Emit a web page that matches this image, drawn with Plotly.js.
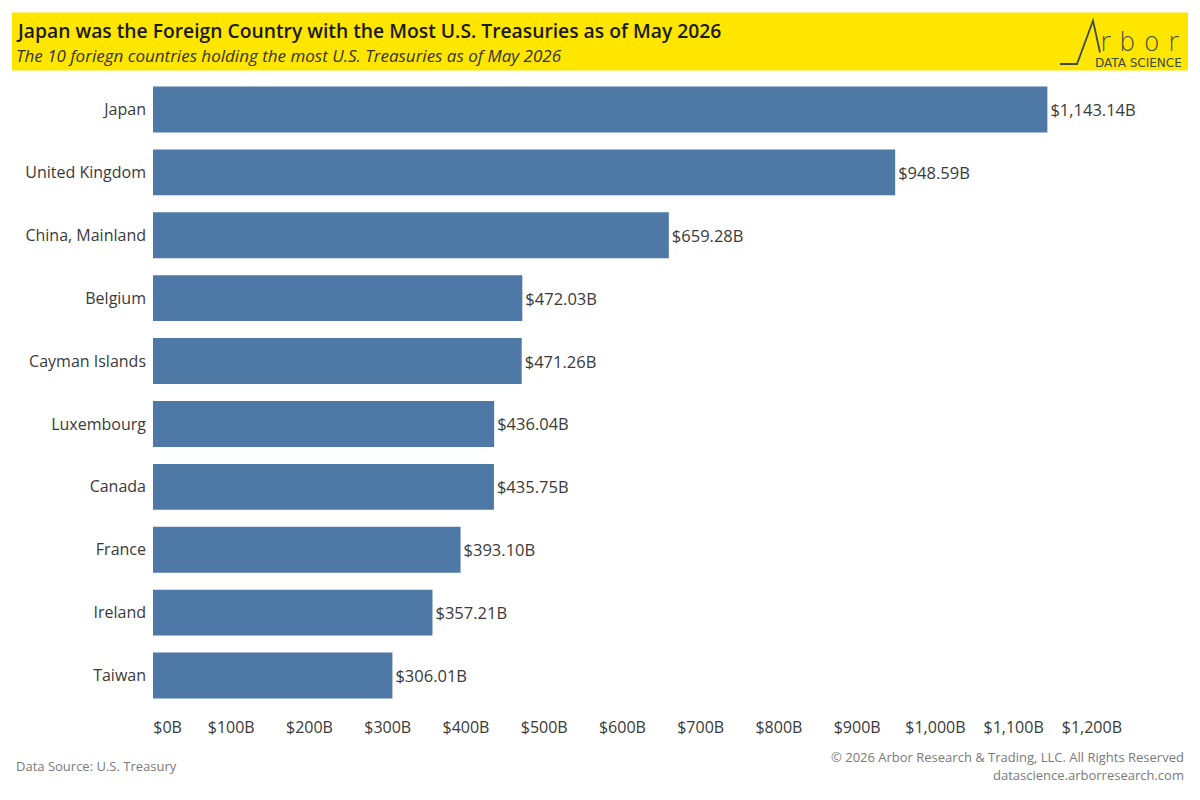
<!DOCTYPE html>
<html>
<head>
<meta charset="utf-8">
<script src="https://cdn.plot.ly/plotly-3.0.1.min.js"></script>
<style>
html,body{margin:0;padding:0;background:#fff;}
#chart{width:1200px;height:800px;}
</style>
</head>
<body>
<div id="chart"></div>
<script>
const countries = ["Japan","United Kingdom","China, Mainland","Belgium","Cayman Islands","Luxembourg","Canada","France","Ireland","Taiwan"];
const holdings = [1143.14, 948.59, 659.28, 472.03, 471.26, 436.04, 435.75, 393.10, 357.21, 306.01];
const valueLabels = ["$1,143.14B","$948.59B","$659.28B","$472.03B","$471.26B","$436.04B","$435.75B","$393.10B","$357.21B","$306.01B"];
const tickValues = [0,100,200,300,400,500,600,700,800,900,1000,1100,1200];
const tickLabels = ["$0B","$100B","$200B","$300B","$400B","$500B","$600B","$700B","$800B","$900B","$1,000B","$1,100B","$1,200B"];

const titleText = "Japan was the Foreign Country with the Most U.S. Treasuries as of May 2026";
const subtitleText = "The 10 foriegn countries holding the most U.S. Treasuries as of May 2026";
const sourceText = "Data Source: U.S. Treasury";
const copyrightText = "© 2026 Arbor Research & Trading, LLC. All Rights Reserved";
const siteText = "datascience.arborresearch.com";
const logoWord = "r\u00a0b\u00a0o\u00a0r";
const logoTag = "DATA SCIENCE";

// layout geometry (pixels)
const W = 1200, H = 800;
const mL = 153, mR = 69, mT = 77.5, mB = 92.5;
const pw = W - mL - mR, ph = H - mT - mB;
const px = x => (x - mL) / pw;
const py = y => (H - mB - y) / ph;

// first tick label sits inside the axis start, as in the reference
const shownTicks = tickLabels.map((t, i) => i === 0 ? "\u00a0".repeat(7) + t : t);

const FONT = "Open Sans, sans-serif";
const txt = "#3a3a3a";

const trace = {
  type: "bar",
  orientation: "h",
  x: holdings,
  y: countries,
  text: valueLabels,
  textposition: "outside",
  cliponaxis: false,
  textfont: {family: FONT, size: 16.5, color: txt},
  marker: {color: "#4e79a7"},
  hoverinfo: "none"
};

const logoColor = "#3d4b45";
const layout = {
  width: W, height: H,
  margin: {l: mL, r: mR, t: mT, b: mB, pad: 0},
  paper_bgcolor: "#fff",
  plot_bgcolor: "#fff",
  bargap: 0.27,
  showlegend: false,
  font: {family: FONT, color: txt},
  xaxis: {
    range: [0, 1250],
    tickvals: tickValues,
    ticktext: shownTicks,
    showgrid: false, zeroline: false, showline: false, ticks: "",
    tickfont: {family: FONT, size: 16, color: txt},
    ticklabelstandoff: 9,
    fixedrange: true
  },
  yaxis: {
    autorange: "reversed",
    showgrid: false, zeroline: false, showline: false, ticks: "",
    tickfont: {family: FONT, size: 16, color: txt},
    ticklabelstandoff: 6,
    fixedrange: true
  },
  shapes: [
    {type: "rect", xref: "paper", yref: "paper", x0: px(12), x1: px(1188), y0: py(70), y1: py(12),
     fillcolor: "#FFE600", line: {width: 0}, layer: "below"},
    {type: "path", xref: "paper", yref: "paper",
     path: `M ${px(1060)} ${py(63.5)} L ${px(1077)} ${py(63.5)} L ${px(1093)} ${py(20)} L ${px(1100)} ${py(52)}`,
     line: {color: logoColor, width: 1.8}}
  ],
  annotations: [
    {text: titleText, xref: "paper", yref: "paper", x: px(14), y: py(29.5), xanchor: "left", yanchor: "middle",
     showarrow: false, font: {family: FONT, size: 19.3, color: "#1a1a1a", weight: 600}},
    {text: "<i>" + subtitleText + "</i>", xref: "paper", yref: "paper", x: px(14), y: py(55), xanchor: "left", yanchor: "middle",
     showarrow: false, font: {family: FONT, size: 17, color: "#333"}},
    {text: logoWord, xref: "paper", yref: "paper", x: px(1098), y: py(41), xanchor: "left", yanchor: "middle",
     showarrow: false, font: {family: "DejaVu Sans, sans-serif", size: 26, color: logoColor, weight: 200}},
    {text: logoTag, xref: "paper", yref: "paper", x: px(1184), y: py(62), xanchor: "right", yanchor: "middle",
     showarrow: false, font: {family: "DejaVu Sans, sans-serif", size: 12, color: logoColor}},
    {text: sourceText, xref: "paper", yref: "paper", x: px(14), y: py(767), xanchor: "left", yanchor: "middle",
     showarrow: false, font: {family: FONT, size: 13, color: "#7a7a7a"}},
    {text: copyrightText, xref: "paper", yref: "paper", x: px(1186), y: py(758), xanchor: "right", yanchor: "middle",
     showarrow: false, font: {family: FONT, size: 13, color: "#7a7a7a"}},
    {text: siteText, xref: "paper", yref: "paper", x: px(1186), y: py(776), xanchor: "right", yanchor: "middle",
     showarrow: false, font: {family: FONT, size: 13, color: "#7a7a7a"}}
  ]
};

Plotly.newPlot("chart", [trace], layout, {displayModeBar: false, staticPlot: true});
</script>
</body>
</html>
